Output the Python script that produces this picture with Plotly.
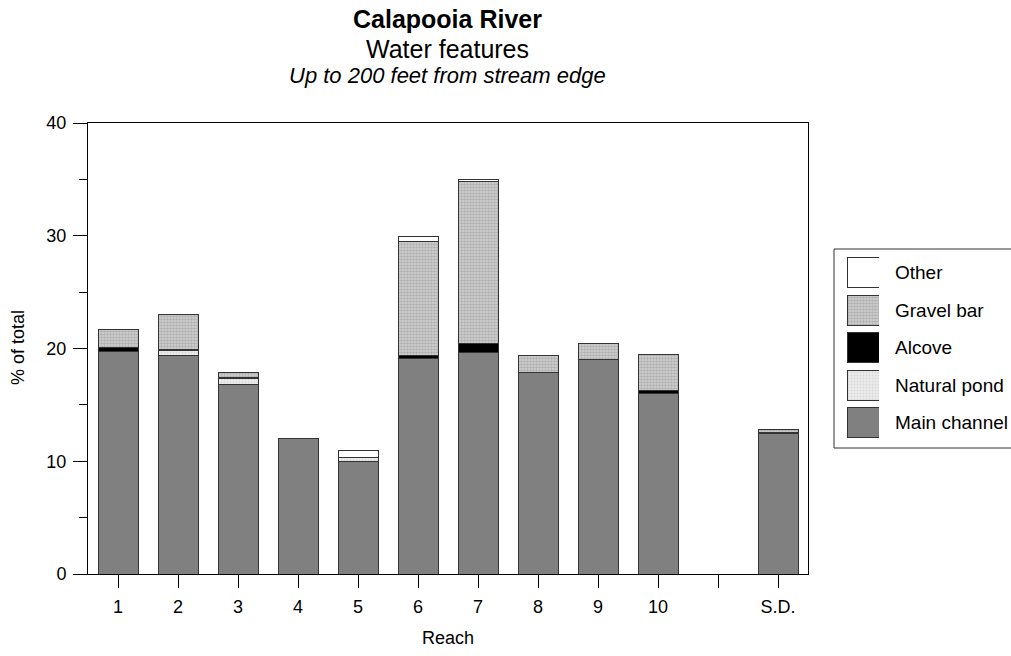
import plotly.graph_objects as go

W, H = 1011, 656

reaches = ["1", "2", "3", "4", "5", "6", "7", "8", "9", "10", " ", "S.D."]
main_channel = [19.7, 19.4, 16.8, 12.0, 10.0, 19.1, 19.65, 17.85, 19.0, 16.0, None, 12.5]
natural_pond = [0, 0.45, 0.55, 0, 0.35, 0, 0, 0, 0, 0, None, 0]
alcove = [0.35, 0.05, 0.1, 0.05, 0, 0.3, 0.8, 0, 0.05, 0.25, None, 0.05]
gravel_bar = [1.6, 3.1, 0.45, 0, 0, 10.1, 14.4, 1.55, 1.35, 3.2, None, 0.3]
other = [0, 0, 0, 0, 0.6, 0.4, 0.1, 0, 0.05, 0, None, 0]

legend_names = ["Main channel", "Natural pond", "Alcove", "Gravel bar", "Other"]

FONT = "Liberation Sans, Arial, sans-serif"
LINE = "#333333"

styles = {
    "Main channel": dict(color="#808080"),
    "Natural pond": dict(color="#e2e2e2", pattern=dict(shape=".", fgcolor="#c4c4c4", bgcolor="#ececec", size=3, solidity=0.35)),
    "Alcove": dict(color="#000000"),
    "Gravel bar": dict(color="#b0b0b0", pattern=dict(shape=".", fgcolor="#8c8c8c", bgcolor="#d4d4d4", size=3, solidity=0.6)),
    "Other": dict(color="#ffffff"),
}

series = {
    "Main channel": main_channel,
    "Natural pond": natural_pond,
    "Alcove": alcove,
    "Gravel bar": gravel_bar,
    "Other": other,
}

fig = go.Figure()
for name in legend_names:
    st = styles[name]
    marker = dict(color=st["color"], line=dict(color=LINE, width=1))
    if "pattern" in st:
        marker["pattern"] = st["pattern"]
    fig.add_trace(go.Bar(x=reaches, y=series[name], name=name, marker=marker,
                         showlegend=False, xaxis="x", yaxis="y"))

# custom legend swatches drawn as bars on a hidden axis
for i, name in enumerate(legend_names):
    st = styles[name]
    marker = dict(color=st["color"], line=dict(color=LINE, width=1))
    if "pattern" in st:
        marker["pattern"] = st["pattern"]
    fig.add_trace(go.Bar(x=[1], y=[i], orientation="h", width=[0.8], marker=marker,
                         showlegend=False, xaxis="x2", yaxis="y2", hoverinfo="skip"))

px_x = lambda p: p / W
px_y = lambda p: 1 - p / H

annotations = [
    dict(text="<b>Calapooia River</b>", x=px_x(447), y=px_y(19), xref="paper", yref="paper",
         showarrow=False, font=dict(size=25, family=FONT, color="black"), xanchor="center", yanchor="middle"),
    dict(text="Water features", x=px_x(447), y=px_y(49), xref="paper", yref="paper",
         showarrow=False, font=dict(size=25, family=FONT, color="black"), xanchor="center", yanchor="middle"),
    dict(text="<i>Up to 200 feet from stream edge</i>", x=px_x(447), y=px_y(75), xref="paper", yref="paper",
         showarrow=False, font=dict(size=22, family=FONT, color="black"), xanchor="center", yanchor="middle"),
    dict(text="Reach", x=px_x(448), y=px_y(638), xref="paper", yref="paper",
         showarrow=False, font=dict(size=18, family=FONT, color="black"), xanchor="center", yanchor="middle"),
    dict(text="% of total", x=px_x(18), y=px_y(348), xref="paper", yref="paper", textangle=-90,
         showarrow=False, font=dict(size=18, family=FONT, color="black"), xanchor="center", yanchor="middle"),
]
for i, name in enumerate(legend_names):
    annotations.append(dict(text=name, x=px_x(893), y=i, xref="paper", yref="y2", showarrow=False,
                            xanchor="left", yanchor="middle", font=dict(size=19, family=FONT, color="black")))

fig.update_layout(
    width=W, height=H,
    margin=dict(l=0, r=0, t=0, b=0),
    paper_bgcolor="white", plot_bgcolor="white",
    barmode="stack", bargap=1/3,
    showlegend=False,
    font=dict(family=FONT, size=18, color="black"),
    xaxis=dict(domain=[px_x(88), px_x(808)], type="category", range=[-0.5, 11.5],
               showline=True, linecolor="black", linewidth=1, mirror=True,
               ticks="outside", ticklen=13, tickcolor="black", showgrid=False,
               tickfont=dict(size=18, family=FONT), ticklabelstandoff=3, automargin=False),
    yaxis=dict(domain=[px_y(574), px_y(123)], range=[0, 40], dtick=10,
               showline=True, linecolor="black", linewidth=1, mirror=True,
               ticks="outside", ticklen=14, tickcolor="black", showgrid=False, zeroline=False,
               minor=dict(dtick=5, ticks="outside", ticklen=8, tickcolor="black", showgrid=False),
               tickfont=dict(size=18, family=FONT), ticklabelstandoff=3, automargin=False),
    xaxis2=dict(domain=[px_x(847), px_x(879)], range=[0, 1], visible=False, anchor="y2", fixedrange=True),
    yaxis2=dict(domain=[px_y(441.5), px_y(254)], range=[-0.5, 4.5], visible=False, anchor="x2", fixedrange=True),
    annotations=annotations,
    shapes=[dict(type="rect", xref="paper", yref="paper", x0=px_x(834), x1=px_x(1012),
                 y0=px_y(448), y1=px_y(249), line=dict(color="#333333", width=1), fillcolor="rgba(0,0,0,0)",
                 layer="below")],
)

fig.write_html("out.html")
